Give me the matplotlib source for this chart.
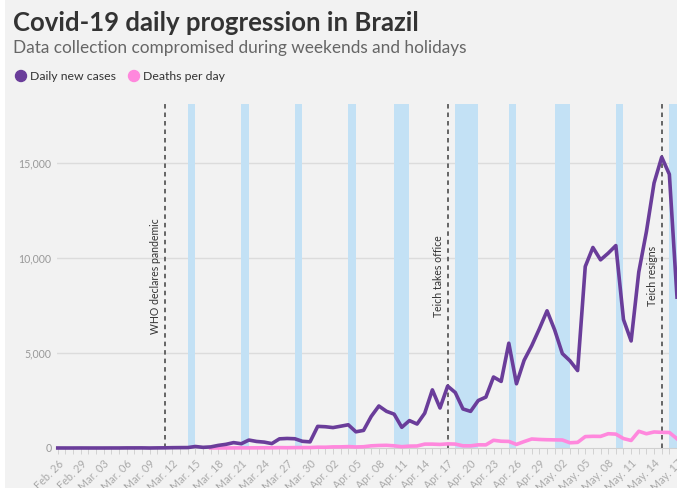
import matplotlib
matplotlib.use("Agg")
import matplotlib.pyplot as plt
import matplotlib.dates as mdates
import numpy as np
import pandas as pd
from matplotlib.patches import Rectangle, Ellipse

plt.rcParams['font.family'] = ['Lato', 'DejaVu Sans']

# ---------------- data ----------------
start_date = "2020-02-26"
end_date = "2020-05-17"
daily_cases = [
    1, 0, 0, 1,
    0, 0, 0, 1, 1, 5, 5, 6, 0, 6, 9, 17, 21, 23, 79, 34, 57, 137, 193, 283, 224, 418,
    345, 310, 232, 482, 502, 487, 352, 323, 1138,
    1119, 1074, 1146, 1222, 852, 926, 1661, 2210, 1930, 1781, 1089, 1442, 1261, 1832,
    3058, 2105, 3257, 2917, 2055, 1927, 2498, 2678, 3735, 3503, 5514, 3379, 4613, 5385,
    6276, 7218,
    6209, 4970, 4588, 4075, 9550, 10550, 9900, 10250, 10650, 6760, 5632, 9258, 11385,
    13944, 15305, 14400, 7938,
]
deaths_start = "2020-03-17"
daily_deaths = [
    1, 3, 2, 5, 7, 7, 9, 12, 11, 20, 15, 22, 22, 23, 42,
    40, 58, 60, 73, 54, 67, 114, 133, 141, 115, 68, 99, 105, 204, 204, 188, 217, 206,
    115, 113, 166, 165, 407, 357, 346, 189, 338, 474, 449, 435,
    428, 421, 275, 296, 600, 615, 610, 751, 730, 496, 396, 881, 749, 844, 824, 816, 485,
]
band_starts = ["2020-03-14", "2020-03-21", "2020-03-28", "2020-04-04", "2020-04-10",
               "2020-04-18", "2020-04-25", "2020-05-01", "2020-05-09", "2020-05-16"]
band_ends = ["2020-03-15", "2020-03-22", "2020-03-29", "2020-04-05", "2020-04-12",
             "2020-04-21", "2020-04-26", "2020-05-03", "2020-05-10", "2020-05-17"]
event_dates = ["2020-03-11", "2020-04-17", "2020-05-15"]
event_labels = ["WHO declares pandemic", "Teich takes office", "Teich resigns"]
y_ticks = [0, 5000, 10000, 15000]

title = "Covid-19 daily progression in Brazil"
subtitle = "Data collection compromised during weekends and holidays"
series_names = ["Daily new cases", "Deaths per day"]

# ---------------- style ----------------
BG = "#f2f2f2"
PURPLE = "#6a3d9a"
PINK = "#ff88dd"
BAND = "#c3e1f5"

dates = pd.date_range(start_date, end_date, freq="D")
ddates = pd.date_range(deaths_start, periods=len(daily_deaths), freq="D")

fig = plt.figure(figsize=(6.77, 4.88), dpi=100, facecolor=BG)
W, H = 677, 488
ax = fig.add_axes([57 / W, (H - 448) / H, 1 - 57 / W, (448 - 104) / H])
ax.set_facecolor(BG)

# left white strip of page
fig.patches.append(Rectangle((0, 0), 5 / W, 1, transform=fig.transFigure,
                             facecolor="white", edgecolor="none", zorder=-10))

ax.set_xlim(mdates.date2num(dates[0]) - 0.1, mdates.date2num(dates[-1]))
ax.set_ylim(0, 18100)

for s, e in zip(band_starts, band_ends):
    ax.axvspan(pd.Timestamp(s), pd.Timestamp(e), color=BAND, lw=0, zorder=1)

for yv in y_ticks[1:]:
    ax.axhline(yv, color="#dcdcdc", lw=1, zorder=0.5)

for d, lab in zip(event_dates, event_labels):
    t = pd.Timestamp(d)
    ax.axvline(t, color="#5a5a5a", lw=1.3, ls=(0, (2.5, 2.2)), zorder=3)
    ax.text(mdates.date2num(t) - 1.2, 9050, lab, rotation=90, ha="center", va="center",
            fontsize=7.6, color="#333333", zorder=4)

ax.plot(ddates, daily_deaths, color=PINK, lw=2.6, zorder=5, clip_on=False,
        solid_joinstyle="round")
ax.plot(dates, daily_cases, color=PURPLE, lw=2.6, zorder=6, clip_on=False,
        solid_joinstyle="round")

for sp in ["top", "right", "left"]:
    ax.spines[sp].set_visible(False)
ax.spines["bottom"].set_color("#d0d0d0")
ax.spines["bottom"].set_linewidth(0.8)

ax.set_yticks(y_ticks)
ax.set_yticklabels([f"{v:,}" for v in y_ticks])
ax.tick_params(axis="y", length=0, pad=4, labelsize=7.6, labelcolor="#999999")

major = dates[::3]
ax.set_xticks(major)
ax.set_xticklabels([d.strftime("%b. %d") for d in major], rotation=45, ha="right",
                   rotation_mode="anchor")
ax.set_xticks(dates, minor=True)
ax.tick_params(axis="x", which="both", length=4, width=0.6, color="#cccccc",
               labelsize=7.8, labelcolor="#aaaaaa", pad=3)

# titles
fig.text(13 / W, 1 - 31 / H, title, fontsize=18.5, fontweight="bold", color="#333333",
         ha="left", va="baseline")
fig.text(13 / W, 1 - 53 / H, subtitle, fontsize=12.4, color="#666666",
         ha="left", va="baseline")

# legend
for x0, name, col in zip([21, 134], series_names, [PURPLE, PINK]):
    fig.patches.append(Ellipse((x0 / W, 1 - 76 / H), 11 / W, 11 / H, color=col,
                               transform=fig.transFigure))
    fig.text((x0 + 9) / W, 1 - 76 / H, name, fontsize=8.8, color="#333333",
             ha="left", va="center")

fig.savefig("out.png", dpi=100, facecolor=BG)
